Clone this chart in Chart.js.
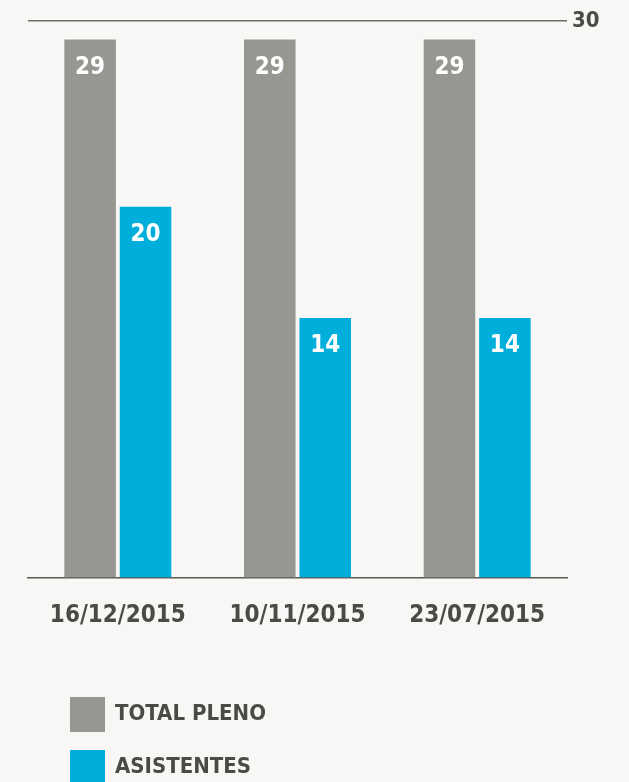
<!DOCTYPE html>
<html><head><meta charset="utf-8">
<script src="https://cdn.jsdelivr.net/npm/chart.js@4/dist/chart.umd.min.js"></script>
<style>html,body{margin:0;padding:0;background:#f8f7f5;}#wrap{width:629px;height:782px;position:relative;}</style>
</head><body><div id="wrap"><canvas id="c"></canvas></div>
<script>
const categories = ['16/12/2015', '10/11/2015', '23/07/2015'];
const totalPleno = [29, 29, 29];
const asistentes = [20, 14, 14];
const seriesLabels = ['TOTAL PLENO', 'ASISTENTES'];
const yTicks = [0, 30];

const FONT = '"DejaVu Sans Condensed", "DejaVu Sans", sans-serif';
const TEXT = '#4b4b45';

const valueLabels = {
  id: 'valueLabels',
  afterDatasetsDraw(chart) {
    const ctx = chart.ctx;
    ctx.save();
    ctx.fillStyle = '#ffffff';
    ctx.font = '600 24px ' + FONT;
    ctx.textAlign = 'center';
    ctx.textBaseline = 'top';
    chart.data.datasets.forEach((ds, i) => {
      chart.getDatasetMeta(i).data.forEach((bar, j) => {
        ctx.fillText(String(ds.data[j]), bar.x, bar.y + 16);
      });
    });
    ctx.restore();
  }
};

const legendPlugin = {
  id: 'customLegend',
  afterDraw(chart) {
    const ctx = chart.ctx;
    ctx.save();
    ctx.font = 'bold 22px ' + FONT;
    ctx.textBaseline = 'middle';
    chart.data.datasets.forEach((ds, i) => {
      const y = 697 + i * 53;
      ctx.fillStyle = ds.backgroundColor;
      ctx.fillRect(70, y, 35, 35);
      ctx.fillStyle = TEXT;
      ctx.fillText(ds.label, 115, y + 17);
    });
    ctx.restore();
  }
};

new Chart(document.getElementById('c'), {
  type: 'bar',
  data: {
    labels: categories,
    datasets: [
      { label: seriesLabels[0], data: totalPleno, backgroundColor: '#979792' },
      { label: seriesLabels[1], data: asistentes, backgroundColor: '#00aedb' }
    ]
  },
  options: {
    responsive: true,
    maintainAspectRatio: false,
    animation: false,
    categoryPercentage: 0.617,
    barPercentage: 0.93,
    layout: { padding: { left: 28, top: 21, right: 0, bottom: 0 } },
    plugins: { legend: { display: false }, tooltip: { enabled: false } },
    scales: {
      x: {
        grid: { display: false, drawTicks: false },
        border: { display: true, color: '#5a5a52', width: 1.5 },
        ticks: { color: TEXT, font: { family: FONT, size: 24, weight: 'bold' }, padding: 23, maxRotation: 0 },
        afterFit(s) { s.height = 782 - 578; }
      },
      y: {
        position: 'right',
        min: 0, max: 30,
        afterBuildTicks(s) { s.ticks = yTicks.map(v => ({ value: v })); },
        grid: {
          drawTicks: false,
          color: c => c.tick && c.tick.value === 30 ? '#6f6f68' : 'rgba(0,0,0,0)',
          lineWidth: 1.5
        },
        border: { display: false },
        ticks: {
          color: TEXT, font: { family: FONT, size: 22, weight: '600' }, padding: 5,
          callback: v => v === 30 ? '30' : ''
        },
        afterFit(s) { s.width = 62; }
      }
    }
  },
  plugins: [valueLabels, legendPlugin]
});
</script></body></html>
